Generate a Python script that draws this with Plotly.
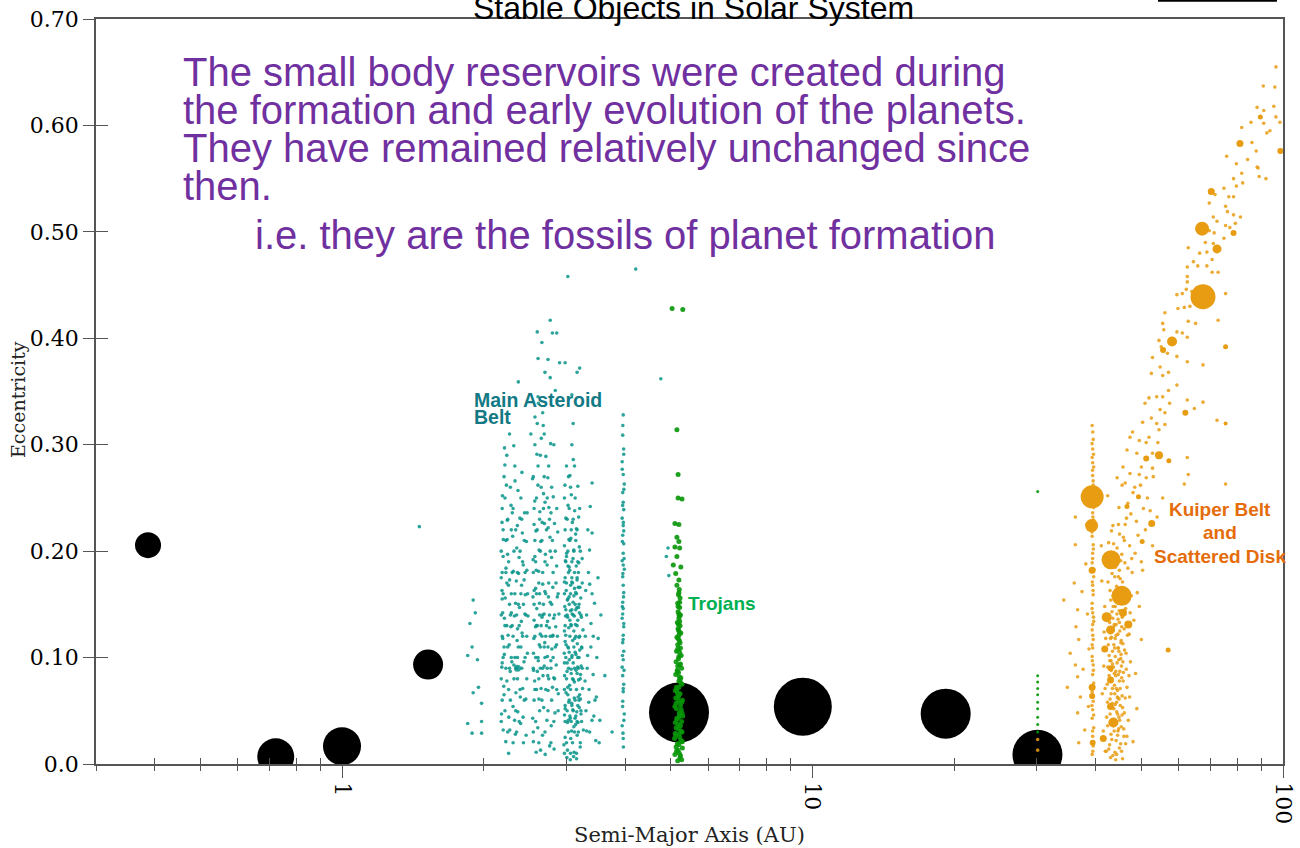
import math
import plotly.graph_objects as go

# ---------------- DATA ----------------
planet_names = ["Mercury", "Venus", "Earth", "Mars", "Jupiter", "Saturn", "Uranus", "Neptune"]
planet_a = [0.387, 0.723, 1.000, 1.524, 5.203, 9.537, 19.19, 30.07]
planet_e = [0.2056, 0.0068, 0.0167, 0.0934, 0.0484, 0.0539, 0.0473, 0.0086]

# main asteroid belt (a [AU], e)
belt_hungaria = [(1.87, 0.132), (1.89, 0.110), (1.92, 0.142), (1.94, 0.098), (1.85, 0.102), (1.90, 0.067),
                 (1.95, 0.072), (1.85, 0.038), (1.98, 0.040), (1.89, 0.029), (1.98, 0.029), (1.98, 0.057),
                 (1.90, 0.154), (1.46, 0.223)]
belt_inner = [(2.18, 0.04), (2.19, 0.06), (2.18, 0.08), (2.20, 0.10), (2.19, 0.12), (2.18, 0.14), (2.20, 0.16),
              (2.19, 0.18), (2.18, 0.20), (2.20, 0.22), (2.19, 0.24), (2.21, 0.27), (2.22, 0.05), (2.23, 0.09),
              (2.22, 0.13), (2.24, 0.17), (2.23, 0.21), (2.22, 0.25), (2.24, 0.29), (2.25, 0.03), (2.26, 0.07),
              (2.25, 0.11), (2.27, 0.15), (2.26, 0.19), (2.25, 0.23), (2.27, 0.31), (2.28, 0.06), (2.29, 0.10),
              (2.28, 0.14), (2.30, 0.18), (2.29, 0.22), (2.28, 0.26), (2.31, 0.02), (2.32, 0.08), (2.31, 0.12),
              (2.33, 0.16), (2.32, 0.20), (2.31, 0.24), (2.33, 0.28), (2.34, 0.05), (2.35, 0.09), (2.36, 0.10),
              (2.36, 0.08), (2.37, 0.11), (2.35, 0.14), (2.36, 0.18), (2.34, 0.22), (2.38, 0.04), (2.39, 0.07),
              (2.38, 0.13), (2.40, 0.16), (2.39, 0.20), (2.40, 0.25), (2.41, 0.09), (2.42, 0.12), (2.43, 0.15),
              (2.42, 0.19), (2.41, 0.23), (2.43, 0.02), (2.44, 0.06), (2.45, 0.10), (2.46, 0.14), (2.45, 0.18),
              (2.44, 0.21), (2.47, 0.12), (2.47, 0.08), (2.48, 0.16), (2.21, 0.11), (2.24, 0.13), (2.27, 0.09),
              (2.30, 0.13), (2.33, 0.10), (2.37, 0.15), (2.40, 0.11), (2.23, 0.18), (2.29, 0.16), (2.35, 0.03),
              (2.26, 0.01), (2.19, 0.155), (2.18, 0.175), (2.20, 0.195), (2.19, 0.095), (2.21, 0.065)]
belt_inner2 = [(2.183, 0.047), (2.207, 0.073), (2.196, 0.118), (2.214, 0.137), (2.188, 0.163), (2.231, 0.184),
               (2.202, 0.211), (2.246, 0.229), (2.193, 0.252), (2.219, 0.281), (2.262, 0.044), (2.278, 0.087),
               (2.254, 0.121), (2.291, 0.142), (2.271, 0.173), (2.249, 0.197), (2.305, 0.214), (2.287, 0.243),
               (2.236, 0.262), (2.318, 0.299), (2.327, 0.041), (2.342, 0.067), (2.319, 0.093), (2.361, 0.127),
               (2.338, 0.151), (2.373, 0.179), (2.352, 0.203), (2.388, 0.231), (2.366, 0.257), (2.412, 0.274),
               (2.397, 0.038), (2.421, 0.071), (2.437, 0.096), (2.405, 0.134), (2.452, 0.159), (2.428, 0.187),
               (2.466, 0.209), (2.443, 0.236), (2.478, 0.104), (2.459, 0.061), (2.186, 0.091), (2.213, 0.103),
               (2.241, 0.078), (2.267, 0.112), (2.296, 0.096), (2.324, 0.139), (2.356, 0.116), (2.383, 0.147),
               (2.414, 0.123), (2.447, 0.141), (2.195, 0.142), (2.223, 0.156), (2.258, 0.168), (2.284, 0.129),
               (2.313, 0.181), (2.347, 0.172), (2.379, 0.194), (2.408, 0.168), (2.438, 0.173), (2.471, 0.182),
               (2.201, 0.032), (2.229, 0.021), (2.273, 0.032), (2.309, 0.054), (2.336, 0.028), (2.364, 0.049),
               (2.393, 0.063), (2.426, 0.044), (2.462, 0.027), (2.485, 0.139), (2.188, 0.227), (2.244, 0.211),
               (2.301, 0.236), (2.359, 0.224), (2.417, 0.217), (2.215, 0.297), (2.332, 0.266), (2.475, 0.236)]
belt_middle = [(2.55, 0.03), (2.56, 0.06), (2.55, 0.09), (2.57, 0.12), (2.56, 0.15), (2.55, 0.18), (2.57, 0.21),
               (2.56, 0.24), (2.55, 0.27), (2.57, 0.30), (2.58, 0.04), (2.59, 0.07), (2.58, 0.10), (2.60, 0.13),
               (2.59, 0.16), (2.58, 0.19), (2.60, 0.22), (2.59, 0.25), (2.61, 0.28), (2.60, 0.32), (2.62, 0.02),
               (2.63, 0.05), (2.62, 0.08), (2.64, 0.11), (2.63, 0.14), (2.62, 0.17), (2.64, 0.20), (2.63, 0.23),
               (2.65, 0.26), (2.64, 0.29), (2.66, 0.06), (2.67, 0.09), (2.66, 0.12), (2.68, 0.15), (2.67, 0.18),
               (2.66, 0.21), (2.68, 0.24), (2.69, 0.27), (2.67, 0.33), (2.70, 0.03), (2.71, 0.07), (2.70, 0.10),
               (2.72, 0.13), (2.71, 0.16), (2.70, 0.19), (2.72, 0.22), (2.73, 0.25), (2.74, 0.05), (2.75, 0.08),
               (2.74, 0.11), (2.76, 0.14), (2.75, 0.17), (2.77, 0.20), (2.76, 0.23), (2.75, 0.28), (2.78, 0.02),
               (2.79, 0.06), (2.78, 0.09), (2.80, 0.12), (2.79, 0.15), (2.81, 0.18), (2.80, 0.21), (2.79, 0.26),
               (2.82, 0.04), (2.83, 0.08), (2.84, 0.11), (2.83, 0.14), (2.85, 0.17), (2.84, 0.20), (2.86, 0.07),
               (2.87, 0.12), (2.86, 0.24), (2.88, 0.05), (2.88, 0.16), (2.57, 0.07), (2.61, 0.10), (2.65, 0.13),
               (2.69, 0.11), (2.73, 0.09), (2.77, 0.12), (2.81, 0.10), (2.59, 0.13), (2.63, 0.16), (2.67, 0.14),
               (2.71, 0.12), (2.64, 0.09), (2.56, 0.135), (2.58, 0.165), (2.57, 0.195), (2.56, 0.225)]
belt_middle2 = [(2.543, 0.043), (2.567, 0.078), (2.552, 0.104), (2.578, 0.129), (2.561, 0.163), (2.548, 0.192),
                (2.583, 0.219), (2.569, 0.247), (2.541, 0.268), (2.596, 0.291), (2.607, 0.034), (2.621, 0.061),
                (2.613, 0.097), (2.638, 0.122), (2.629, 0.151), (2.617, 0.181), (2.645, 0.209), (2.633, 0.237),
                (2.609, 0.262), (2.652, 0.306), (2.668, 0.027), (2.683, 0.053), (2.674, 0.083), (2.697, 0.114),
                (2.689, 0.141), (2.671, 0.169), (2.706, 0.197), (2.693, 0.226), (2.681, 0.254), (2.712, 0.289),
                (2.726, 0.041), (2.741, 0.069), (2.733, 0.101), (2.758, 0.128), (2.746, 0.157), (2.729, 0.187),
                (2.767, 0.213), (2.752, 0.241), (2.738, 0.269), (2.776, 0.301), (2.784, 0.036), (2.801, 0.072),
                (2.793, 0.108), (2.817, 0.137), (2.806, 0.166), (2.789, 0.194), (2.829, 0.226), (2.812, 0.251),
                (2.836, 0.048), (2.853, 0.093), (2.846, 0.129), (2.868, 0.157), (2.859, 0.186), (2.874, 0.218),
                (2.882, 0.066), (2.891, 0.141), (2.551, 0.021), (2.586, 0.011), (2.642, 0.013), (2.703, 0.009),
                (2.762, 0.017), (2.823, 0.014), (2.557, 0.118), (2.594, 0.146), (2.626, 0.112), (2.661, 0.138),
                (2.699, 0.162), (2.734, 0.134), (2.771, 0.152), (2.808, 0.121), (2.546, 0.157), (2.587, 0.182),
                (2.623, 0.201), (2.663, 0.227), (2.701, 0.246), (2.743, 0.222), (2.781, 0.236), (2.571, 0.326),
                (2.615, 0.339), (2.677, 0.318), (2.553, 0.088), (2.601, 0.087), (2.649, 0.071), (2.691, 0.092),
                (2.737, 0.083), (2.779, 0.097), (2.819, 0.081), (2.858, 0.112)]
belt_outer = [(2.97, 0.01), (2.98, 0.04), (2.97, 0.07), (2.99, 0.10), (2.98, 0.13), (2.97, 0.16), (2.99, 0.19),
              (2.98, 0.22), (2.97, 0.25), (3.00, 0.02), (3.01, 0.05), (3.00, 0.08), (3.02, 0.11), (3.01, 0.14),
              (3.00, 0.17), (3.02, 0.20), (3.01, 0.23), (3.00, 0.28), (3.03, 0.03), (3.04, 0.06), (3.03, 0.09),
              (3.05, 0.12), (3.04, 0.15), (3.03, 0.18), (3.05, 0.21), (3.04, 0.24), (3.03, 0.27), (3.06, 0.01),
              (3.07, 0.04), (3.06, 0.07), (3.08, 0.10), (3.07, 0.13), (3.06, 0.16), (3.08, 0.19), (3.07, 0.22),
              (3.06, 0.26), (3.08, 0.30), (3.09, 0.02), (3.10, 0.05), (3.09, 0.08), (3.11, 0.11), (3.10, 0.14),
              (3.09, 0.17), (3.11, 0.20), (3.10, 0.23), (3.12, 0.03), (3.13, 0.06), (3.12, 0.09), (3.14, 0.12),
              (3.13, 0.15), (3.12, 0.18), (3.14, 0.21), (3.13, 0.25), (3.12, 0.28), (3.15, 0.01), (3.16, 0.04),
              (3.15, 0.07), (3.17, 0.10), (3.16, 0.13), (3.15, 0.16), (3.17, 0.19), (3.16, 0.22), (3.18, 0.03),
              (3.19, 0.06), (3.18, 0.09), (3.20, 0.12), (3.19, 0.15), (3.18, 0.18), (3.20, 0.24), (3.21, 0.02),
              (3.22, 0.05), (3.21, 0.08), (3.23, 0.11), (3.22, 0.14), (3.21, 0.20), (3.24, 0.09), (3.24, 0.17),
              (3.23, 0.04), (2.98, 0.115), (3.01, 0.095), (3.04, 0.105), (3.07, 0.085), (3.10, 0.095),
              (3.13, 0.105), (3.16, 0.085), (3.19, 0.100), (2.99, 0.145), (3.02, 0.155), (3.05, 0.135),
              (3.08, 0.145), (3.11, 0.125), (3.14, 0.145), (3.17, 0.135), (2.98, 0.055), (3.02, 0.065),
              (3.05, 0.045), (3.08, 0.055), (3.11, 0.035), (3.14, 0.045), (3.17, 0.055), (3.20, 0.065),
              (3.00, 0.195), (3.04, 0.185), (3.08, 0.175), (3.12, 0.165), (3.16, 0.175), (2.97, 0.095),
              (2.98, 0.175), (2.97, 0.125), (2.98, 0.025), (2.97, 0.205)]
belt_outer2 = [(2.963, 0.018), (2.981, 0.052), (2.972, 0.083), (2.994, 0.112), (2.986, 0.139), (2.969, 0.171),
               (3.002, 0.198), (2.991, 0.231), (2.977, 0.262), (3.014, 0.013), (3.027, 0.041), (3.019, 0.072),
               (3.041, 0.098), (3.033, 0.128), (3.012, 0.154), (3.048, 0.182), (3.036, 0.211), (3.023, 0.243),
               (3.051, 0.271), (3.063, 0.024), (3.078, 0.057), (3.069, 0.089), (3.092, 0.116), (3.084, 0.141),
               (3.061, 0.168), (3.097, 0.193), (3.087, 0.227), (3.072, 0.253), (3.101, 0.286), (3.113, 0.011),
               (3.128, 0.043), (3.119, 0.077), (3.142, 0.103), (3.134, 0.131), (3.111, 0.158), (3.147, 0.186),
               (3.137, 0.216), (3.122, 0.238), (3.161, 0.027), (3.176, 0.063), (3.168, 0.091), (3.189, 0.119),
               (3.181, 0.147), (3.159, 0.173), (3.194, 0.204), (3.184, 0.232), (3.171, 0.261), (3.208, 0.016),
               (3.221, 0.047), (3.213, 0.084), (3.234, 0.109), (3.227, 0.138), (3.204, 0.166), (3.239, 0.193),
               (3.246, 0.071), (3.252, 0.126), (3.258, 0.032), (2.968, 0.104), (2.989, 0.121), (3.008, 0.087),
               (3.029, 0.109), (3.047, 0.074), (3.066, 0.131), (3.083, 0.102), (3.104, 0.079), (3.124, 0.118),
               (3.143, 0.088), (3.163, 0.113), (3.182, 0.079), (3.201, 0.107), (3.223, 0.092), (2.975, 0.148),
               (2.996, 0.163), (3.017, 0.138), (3.038, 0.157), (3.058, 0.144), (3.079, 0.171), (3.098, 0.152),
               (3.117, 0.139), (3.138, 0.161), (3.157, 0.147), (3.178, 0.166), (3.196, 0.142), (3.217, 0.156),
               (2.971, 0.046), (2.993, 0.067), (3.015, 0.039), (3.034, 0.058), (3.057, 0.043), (3.076, 0.031),
               (3.095, 0.051), (3.116, 0.062), (3.137, 0.037), (3.155, 0.049), (3.173, 0.039), (3.193, 0.053),
               (3.212, 0.061), (3.006, 0.006), (3.056, 0.004), (3.106, 0.007), (3.151, 0.005), (2.984, 0.191),
               (3.022, 0.186), (3.064, 0.212), (3.109, 0.201), (3.149, 0.221), (3.186, 0.189)]
belt_cybele = [(3.30, 0.05), (3.32, 0.09), (3.31, 0.14), (3.34, 0.18), (3.36, 0.03), (3.38, 0.11), (3.35, 0.07),
               (3.40, 0.16), (3.42, 0.12), (3.45, 0.06), (3.33, 0.22), (3.48, 0.10), (3.52, 0.02), (3.55, 0.14),
               (3.40, 0.264), (3.37, 0.242), (3.40, 0.217), (3.29, 0.12), (3.43, 0.045), (3.50, 0.175),
               (3.311, 0.031), (3.346, 0.058), (3.327, 0.102), (3.382, 0.132), (3.361, 0.169), (3.418, 0.084),
               (3.398, 0.041), (3.441, 0.151), (3.472, 0.063), (3.503, 0.118), (3.285, 0.078), (3.296, 0.163),
               (3.358, 0.201), (3.532, 0.041), (3.462, 0.022)]
belt_hilda = [(3.96, 0.328), (3.95, 0.309), (3.97, 0.291), (3.94, 0.284), (3.96, 0.272), (3.98, 0.263),
              (3.95, 0.255), (3.96, 0.246), (3.97, 0.239), (3.94, 0.231), (3.96, 0.224), (3.95, 0.215),
              (3.97, 0.207), (3.96, 0.198), (3.94, 0.191), (3.98, 0.183), (3.95, 0.176), (3.96, 0.168),
              (3.97, 0.161), (3.95, 0.152), (3.96, 0.146), (3.94, 0.137), (3.97, 0.129), (3.96, 0.121),
              (3.95, 0.114), (3.97, 0.106), (3.96, 0.098), (3.94, 0.091), (3.95, 0.083), (3.97, 0.075),
              (3.96, 0.068), (3.95, 0.059), (3.98, 0.047), (3.94, 0.036), (3.96, 0.024), (3.95, 0.141),
              (3.96, 0.187), (3.97, 0.219), (3.952, 0.318), (3.968, 0.296), (3.941, 0.277), (3.973, 0.258),
              (3.949, 0.243), (3.962, 0.227), (3.944, 0.209), (3.977, 0.193), (3.953, 0.179), (3.966, 0.157),
              (3.942, 0.148), (3.971, 0.132), (3.958, 0.117), (3.946, 0.102), (3.975, 0.088), (3.961, 0.071),
              (3.948, 0.054), (3.972, 0.041), (3.955, 0.029), (3.963, 0.016)]
belt_high = [(3.02, 0.458), (4.21, 0.465), (4.76, 0.362), (4.93, 0.203), (4.89, 0.195), (4.95, 0.177),
             (2.77, 0.417), (2.60, 0.406), (2.80, 0.405), (2.86, 0.405), (2.66, 0.396), (2.61, 0.381),
             (2.74, 0.380), (2.90, 0.377), (2.98, 0.377), (2.70, 0.368), (2.77, 0.363), (2.37, 0.359),
             (3.16, 0.368), (3.20, 0.372), (2.84, 0.351), (2.61, 0.345), (3.08, 0.347), (3.62, 0.083),
             (3.75, 0.030), (2.52, 0.31), (2.69, 0.31), (2.82, 0.30), (3.10, 0.32)]
vesta_a, vesta_e = [2.36], [0.090]

# Jupiter trojans
trojans = [(5.21, 0.164), (5.19, 0.159), (5.23, 0.156), (5.17, 0.151), (5.22, 0.147), (5.18, 0.143),
           (5.24, 0.140), (5.20, 0.137), (5.16, 0.133), (5.23, 0.130), (5.19, 0.126), (5.25, 0.123),
           (5.15, 0.119), (5.21, 0.116), (5.17, 0.112), (5.24, 0.109), (5.14, 0.106), (5.26, 0.102),
           (5.19, 0.099), (5.13, 0.096), (5.22, 0.093), (5.27, 0.090), (5.16, 0.087), (5.12, 0.084),
           (5.25, 0.081), (5.20, 0.078), (5.28, 0.075), (5.14, 0.072), (5.11, 0.069), (5.23, 0.066),
           (5.18, 0.063), (5.29, 0.060), (5.13, 0.057), (5.10, 0.054), (5.26, 0.051), (5.21, 0.048),
           (5.30, 0.045), (5.15, 0.042), (5.11, 0.039), (5.24, 0.036), (5.19, 0.033), (5.28, 0.030),
           (5.12, 0.027), (5.09, 0.024), (5.25, 0.021), (5.20, 0.018), (5.29, 0.015), (5.14, 0.012),
           (5.10, 0.009), (5.23, 0.006), (5.17, 0.003), (5.20, 0.161), (5.22, 0.152), (5.18, 0.148),
           (5.20, 0.141), (5.22, 0.134), (5.18, 0.127), (5.20, 0.121), (5.23, 0.114), (5.17, 0.108),
           (5.20, 0.101), (5.24, 0.094), (5.16, 0.088), (5.21, 0.082), (5.25, 0.076), (5.15, 0.070),
           (5.19, 0.064), (5.27, 0.058), (5.14, 0.052), (5.22, 0.046), (5.27, 0.040), (5.13, 0.034),
           (5.21, 0.028), (5.26, 0.022), (5.13, 0.016), (5.21, 0.010), (5.27, 0.004), (5.18, 0.118),
           (5.22, 0.105), (5.17, 0.092), (5.23, 0.079), (5.16, 0.067), (5.24, 0.055), (5.15, 0.043),
           (5.25, 0.031), (5.16, 0.019), (5.24, 0.008), (5.19, 0.086), (5.20, 0.072), (5.19, 0.059),
           (5.20, 0.044), (5.18, 0.037), (5.22, 0.025), (5.18, 0.013), (5.12, 0.062), (5.28, 0.048),
           (5.11, 0.029), (5.29, 0.021), (5.21, 0.139), (5.19, 0.131), (5.21, 0.124),
           (5.10, 0.226), (5.20, 0.225), (5.15, 0.213), (5.20, 0.209), (5.10, 0.204), (5.22, 0.203),
           (5.15, 0.195), (5.06, 0.187), (5.25, 0.185), (5.12, 0.179), (5.20, 0.173), (5.15, 0.168),
           (5.03, 0.428), (5.30, 0.427), (5.15, 0.314), (5.18, 0.272), (5.18, 0.250), (5.28, 0.249)]

# Neptune trojans
nep_trojans = [(30.1, 0.256), (30.1, 0.083), (30.1, 0.077), (30.1, 0.071), (30.1, 0.065), (30.1, 0.058),
               (30.1, 0.052), (30.1, 0.044), (30.1, 0.037), (30.1, 0.030)]

# Kuiper belt & scattered disk (small bodies)
kbo_plutino = [(39.3, 0.318), (39.5, 0.305), (39.4, 0.296), (39.3, 0.288), (39.6, 0.279), (39.4, 0.271),
               (39.5, 0.262), (39.3, 0.244), (39.4, 0.236), (39.6, 0.229), (39.3, 0.214), (39.5, 0.206),
               (39.4, 0.198), (39.3, 0.189), (39.6, 0.176), (39.4, 0.168), (39.5, 0.159), (39.3, 0.151),
               (39.4, 0.142), (39.6, 0.134), (39.3, 0.126), (39.5, 0.117), (39.4, 0.109), (39.3, 0.101),
               (39.5, 0.093), (39.4, 0.084), (39.6, 0.076), (39.3, 0.068), (39.5, 0.059), (39.4, 0.051),
               (39.3, 0.043), (39.6, 0.034), (39.4, 0.026), (39.5, 0.017), (39.3, 0.009), (39.4, 0.283),
               (39.5, 0.221), (39.4, 0.131), (39.5, 0.071), (39.3, 0.112), (39.42, 0.312), (39.28, 0.301),
               (39.55, 0.291), (39.37, 0.276), (39.49, 0.266), (39.31, 0.254), (39.58, 0.241), (39.44, 0.232),
               (39.27, 0.218), (39.52, 0.202), (39.39, 0.193), (39.61, 0.183), (39.33, 0.171), (39.47, 0.163),
               (39.29, 0.146), (39.56, 0.138), (39.41, 0.121), (39.34, 0.097), (39.53, 0.088), (39.46, 0.063),
               (39.26, 0.055), (39.59, 0.046), (39.38, 0.031), (39.43, 0.012)]
kbo_inner = [(36.2, 0.232), (36.2, 0.206), (36.0, 0.170), (34.2, 0.154), (36.6, 0.145), (36.3, 0.129),
             (36.8, 0.117), (36.2, 0.093), (36.6, 0.082), (34.8, 0.072), (37.1, 0.063), (36.6, 0.048),
             (37.9, 0.032), (36.8, 0.020), (35.3, 0.104), (38.4, 0.141), (38.1, 0.188), (37.6, 0.089),
             (38.6, 0.054), (37.4, 0.162), (38.3, 0.225), (38.7, 0.108), (30.1, 0.023), (30.1, 0.013)]
kbo_classical = [(42.1, 0.012), (42.8, 0.018), (43.5, 0.008), (44.2, 0.022), (44.9, 0.015), (45.6, 0.005),
                 (46.3, 0.019), (43.1, 0.028), (44.6, 0.031), (45.9, 0.026), (42.4, 0.036), (43.3, 0.041),
                 (44.0, 0.038), (44.8, 0.044), (45.3, 0.035), (46.0, 0.048), (43.7, 0.052), (44.3, 0.058),
                 (45.1, 0.055), (42.9, 0.061), (43.9, 0.066), (44.5, 0.069), (45.5, 0.064), (46.6, 0.072),
                 (42.3, 0.075), (43.2, 0.079), (44.1, 0.083), (44.9, 0.078), (45.8, 0.086), (43.6, 0.091),
                 (44.4, 0.095), (45.2, 0.099), (42.7, 0.102), (43.4, 0.106), (44.7, 0.109), (45.7, 0.113),
                 (46.4, 0.104), (43.0, 0.118), (44.2, 0.121), (45.0, 0.125), (43.8, 0.131), (44.6, 0.136),
                 (45.4, 0.129), (42.5, 0.139), (43.3, 0.143), (44.0, 0.148), (45.9, 0.141), (44.8, 0.153),
                 (43.5, 0.158), (46.2, 0.151), (42.9, 0.163), (44.3, 0.167), (45.6, 0.171), (43.9, 0.176),
                 (44.9, 0.182), (42.2, 0.186), (45.2, 0.191), (43.6, 0.196), (46.8, 0.184), (44.4, 0.203),
                 (42.6, 0.208), (45.8, 0.213), (43.2, 0.219), (44.7, 0.225), (46.5, 0.231), (42.0, 0.118),
                 (41.6, 0.092), (41.3, 0.066), (41.8, 0.148), (41.2, 0.172), (47.1, 0.122), (47.4, 0.096),
                 (47.6, 0.158), (47.2, 0.063), (46.9, 0.041), (41.5, 0.031), (41.1, 0.205), (47.7, 0.193),
                 (44.1, 0.004), (45.0, 0.087), (43.4, 0.071), (44.8, 0.106), (45.3, 0.116), (44.5, 0.047),
                 (43.1, 0.097), (45.6, 0.139), (44.2, 0.159), (43.7, 0.112), (44.9, 0.133), (44.0, 0.101),
                 (43.3, 0.127), (45.4, 0.081), (44.6, 0.062), (43.8, 0.085), (45.1, 0.174), (44.3, 0.188),
                 (43.5, 0.224), (44.8, 0.241), (42.4, 0.252), (45.5, 0.262), (49.5, 0.148), (49.0, 0.161),
                 (50.3, 0.182), (50.0, 0.117), (48.6, 0.085), (48.2, 0.135), (48.9, 0.052), (48.0, 0.021),
                 (42.63, 0.014), (43.27, 0.023), (43.94, 0.011), (44.52, 0.027), (45.18, 0.019), (45.87, 0.033),
                 (42.91, 0.047), (43.58, 0.036), (44.31, 0.049), (44.97, 0.041), (45.62, 0.053), (46.21, 0.062),
                 (42.38, 0.058), (43.11, 0.066), (43.82, 0.074), (44.46, 0.063), (45.08, 0.071), (45.73, 0.078),
                 (46.44, 0.089), (42.71, 0.083), (43.41, 0.094), (44.12, 0.087), (44.77, 0.098), (45.36, 0.092),
                 (46.05, 0.107), (42.52, 0.112), (43.19, 0.119), (43.87, 0.109), (44.58, 0.122), (45.24, 0.114),
                 (45.96, 0.127), (42.81, 0.133), (43.49, 0.137), (44.19, 0.131), (44.86, 0.144), (45.51, 0.138),
                 (46.31, 0.146), (43.04, 0.154), (43.72, 0.161), (44.41, 0.156), (45.11, 0.164), (45.79, 0.158),
                 (42.47, 0.171), (43.31, 0.179), (44.05, 0.185), (44.68, 0.176), (45.43, 0.197), (46.12, 0.189),
                 (43.64, 0.207), (44.93, 0.216), (42.19, 0.044), (41.87, 0.071), (41.66, 0.124), (47.06, 0.083),
                 (47.33, 0.142), (46.73, 0.121), (46.58, 0.026), (41.92, 0.012), (43.77, 0.031), (44.23, 0.071),
                 (44.69, 0.084), (43.36, 0.057), (44.84, 0.061), (43.97, 0.118), (45.27, 0.103), (44.36, 0.141),
                 (43.56, 0.148), (45.67, 0.096), (44.01, 0.056), (43.14, 0.088), (44.73, 0.033), (45.49, 0.046),
                 (43.68, 0.129), (44.54, 0.109), (42.86, 0.097), (45.02, 0.151), (44.28, 0.009), (43.01, 0.006),
                 (45.39, 0.012), (42.44, 0.091)]
kbo_scattered = [(96.6, 0.655), (90.8, 0.637), (96.1, 0.636), (88.1, 0.617), (91.0, 0.614), (95.6, 0.618),
                 (96.6, 0.608), (98.5, 0.603), (85.5, 0.603), (91.0, 0.602), (81.7, 0.598), (92.4, 0.593),
                 (93.8, 0.595), (85.9, 0.584), (87.7, 0.576), (75.9, 0.571), (84.1, 0.568), (79.6, 0.564),
                 (88.1, 0.561), (88.5, 0.560), (81.7, 0.555), (89.0, 0.552), (92.0, 0.550), (78.5, 0.550),
                 (79.6, 0.543), (82.1, 0.546), (74.9, 0.541), (71.7, 0.535), (76.7, 0.533), (78.5, 0.533),
                 (69.7, 0.527), (75.5, 0.524), (76.2, 0.519), (78.5, 0.516), (81.2, 0.514), (71.1, 0.514),
                 (72.4, 0.510), (79.2, 0.508), (75.5, 0.506), (69.7, 0.501), (71.4, 0.499), (77.1, 0.504),
                 (74.9, 0.494), (68.4, 0.490), (71.1, 0.489), (62.9, 0.485), (66.5, 0.480), (68.9, 0.481),
                 (70.7, 0.474), (64.5, 0.472), (62.6, 0.467), (65.9, 0.468), (68.9, 0.468), (72.8, 0.462),
                 (70.7, 0.462), (62.6, 0.458), (62.6, 0.453), (61.1, 0.442), (59.5, 0.441), (64.0, 0.444),
                 (62.3, 0.446), (75.5, 0.442), (61.7, 0.429), (63.4, 0.430), (62.9, 0.416), (65.2, 0.414),
                 (59.8, 0.428), (72.8, 0.417), (56.1, 0.424), (55.5, 0.414), (55.8, 0.408), (59.5, 0.406),
                 (61.1, 0.405), (62.6, 0.401), (54.5, 0.398), (55.1, 0.392), (56.8, 0.386), (52.8, 0.382),
                 (59.5, 0.383), (62.6, 0.378), (54.8, 0.373), (57.1, 0.368), (52.5, 0.367), (55.5, 0.365),
                 (67.6, 0.375), (59.5, 0.356), (57.1, 0.351), (62.6, 0.342), (51.9, 0.344), (53.9, 0.345),
                 (55.5, 0.345), (57.4, 0.339), (50.9, 0.339), (54.8, 0.333), (64.8, 0.334), (56.1, 0.330),
                 (52.5, 0.325), (50.3, 0.321), (53.9, 0.320), (72.4, 0.323), (56.1, 0.319), (54.5, 0.314),
                 (47.9, 0.312), (47.3, 0.307), (51.9, 0.307), (49.5, 0.304), (51.2, 0.302), (54.2, 0.302),
                 (46.6, 0.295), (48.9, 0.292), (52.8, 0.292), (45.7, 0.279), (50.0, 0.279), (52.8, 0.278),
                 (47.3, 0.273), (49.5, 0.272), (44.4, 0.269), (51.2, 0.269), (46.2, 0.264), (48.4, 0.260),
                 (62.6, 0.288), (62.9, 0.272), (61.7, 0.263), (75.5, 0.263), (67.6, 0.340),
                 (46.8, 0.245), (48.0, 0.255), (49.8, 0.262), (51.5, 0.250), (53.0, 0.270), (47.5, 0.235),
                 (50.5, 0.240), (52.2, 0.238), (48.8, 0.228), (46.2, 0.225), (49.2, 0.215), (51.0, 0.220),
                 (47.2, 0.205), (48.5, 0.198), (50.0, 0.190), (46.0, 0.210), (52.8, 0.205), (54.0, 0.232),
                 (55.5, 0.250), (47.8, 0.180)]

# larger trans-Neptunian objects
kbo_big_a = [39.3, 39.2, 43.1, 45.4, 67.6, 67.3, 43.6, 39.3, 42.2, 43.0, 45.7, 46.9, 41.8, 39.3, 39.3,
             43.0, 41.5, 39.4, 43.0, 43.0, 54.5, 51.2, 49.3, 52.6, 50.2, 46.6, 57.0, 72.4, 78.5, 70.4,
             81.0, 89.5, 98.7, 58.1, 55.6, 75.5, 62.0, 75.5, 57.2]
kbo_big_e = [0.251, 0.224, 0.192, 0.158, 0.439, 0.503, 0.039, 0.182, 0.138, 0.126, 0.142, 0.131, 0.108,
             0.072, 0.064, 0.054, 0.024, 0.020, 0.079, 0.090, 0.290, 0.287, 0.251, 0.226, 0.209, 0.242,
             0.107, 0.484, 0.499, 0.538, 0.583, 0.608, 0.576, 0.397, 0.389, 0.392, 0.330, 0.320, 0.285]

x_major_ticks = [1, 10, 100]
x_minor_ticks = [0.3, 0.4, 0.5, 0.6, 0.7, 0.8, 0.9, 2, 3, 4, 5, 6, 7, 8, 9, 20, 30, 40, 50, 60, 70, 80, 90]
y_ticks = [0.0, 0.1, 0.2, 0.3, 0.4, 0.5, 0.6, 0.7]
y_ticktext = ["0.0", "0.10", "0.20", "0.30", "0.40", "0.50", "0.60", "0.70"]

# ---------------- STYLE ----------------
planet_marker_px = [26, 37, 38, 30, 60, 58, 50, 50]
kbo_big_marker_px = [23, 13, 19, 20, 25, 14, 10, 7, 10, 9, 8, 8, 7, 7, 6, 7, 7, 6, 7, 6, 8, 6, 5, 7, 5, 5,
                     5, 9, 6, 7, 7, 5, 6, 10, 6, 5, 6, 4, 5]
TEAL = "rgba(8,148,138,0.85)"
GREEN = "rgba(8,150,8,0.9)"
ORANGE = "rgba(232,156,18,0.85)"
AXC = "#555555"
SERIF = "DejaVu Serif"
SANS = "Liberation Sans, Arial, sans-serif"


def unzip(pairs):
    return [p[0] for p in pairs], [p[1] for p in pairs]


fig = go.Figure()

fig.add_trace(go.Scatter(x=planet_a, y=planet_e, mode="markers", text=planet_names,
                         marker=dict(size=planet_marker_px, color="black", opacity=1, line=dict(width=0)),
                         hoverinfo="text+x+y"))

belt_all = (belt_hungaria + belt_inner + belt_inner2 + belt_middle + belt_middle2 + belt_outer + belt_outer2
            + belt_cybele + belt_hilda + belt_high)
ba, be = unzip(belt_all)
fig.add_trace(go.Scatter(x=ba, y=be, mode="markers", marker=dict(size=3.6, color=TEAL, line=dict(width=0))))
fig.add_trace(go.Scatter(x=vesta_a, y=vesta_e, mode="markers",
                         marker=dict(size=7, color=TEAL, opacity=1, line=dict(width=0))))

ta, te = unzip(trojans)
fig.add_trace(go.Scatter(x=ta, y=te, mode="markers", marker=dict(size=5, color=GREEN, line=dict(width=0))))

ka, ke = unzip(kbo_plutino + kbo_inner + kbo_classical + kbo_scattered)
fig.add_trace(go.Scatter(x=ka, y=ke, mode="markers", marker=dict(size=3.6, color=ORANGE, line=dict(width=0))))
fig.add_trace(go.Scatter(x=kbo_big_a, y=kbo_big_e, mode="markers",
                         marker=dict(size=kbo_big_marker_px, color="rgb(232,156,18)", opacity=1,
                                     line=dict(width=0))))

na, ne = unzip(nep_trojans)
fig.add_trace(go.Scatter(x=na, y=ne, mode="markers", marker=dict(size=3, color=GREEN, line=dict(width=0))))

# empty traces to activate the tick-only overlay axes
fig.add_trace(go.Scatter(x=[], y=[], xaxis="x2", yaxis="y", hoverinfo="skip"))
fig.add_trace(go.Scatter(x=[], y=[], xaxis="x3", yaxis="y", hoverinfo="skip"))
fig.add_trace(go.Scatter(x=[], y=[], xaxis="x", yaxis="y2", hoverinfo="skip"))

XR = [math.log10(0.3), 2]
YR = [0, 0.7]
common_x = dict(type="log", range=XR, showgrid=False, zeroline=False, tickcolor=AXC, tickwidth=1.3,
                automargin=False)

fig.update_layout(
    width=1300, height=848,
    margin=dict(l=96, r=17, t=19, b=84),
    plot_bgcolor="white", paper_bgcolor="white",
    showlegend=False,
    xaxis=dict(**common_x, tickvals=x_major_ticks, ticktext=["1", "10", "100"], ticks="outside",
               ticklen=12, tickangle=90, showline=True, linecolor=AXC, linewidth=1.5, mirror=True,
               tickfont=dict(family=SERIF, size=22, color="black")),
    xaxis2=dict(**common_x, overlaying="x", tickvals=x_minor_ticks, ticks="outside", ticklen=6,
                showticklabels=False, showline=False),
    xaxis3=dict(**common_x, overlaying="x", tickvals=x_minor_ticks, ticks="inside", ticklen=6,
                showticklabels=False, showline=False),
    yaxis=dict(range=YR, tickvals=y_ticks, ticktext=y_ticktext, ticks="outside", ticklen=11, automargin=False,
               tickcolor=AXC, tickwidth=1.3, showline=True, linecolor=AXC, linewidth=1.5, mirror=True,
               showgrid=False, zeroline=False, tickfont=dict(family=SERIF, size=22, color="black")),
    yaxis2=dict(range=YR, overlaying="y", tickvals=y_ticks, ticks="inside", ticklen=12, tickcolor=AXC,
                automargin=False, tickwidth=1.3, showticklabels=False, showline=False, showgrid=False,
                zeroline=False),
)

PURPLE = "#7030A0"
ann = []
ann.append(dict(text="Stable Objects in Solar System", x=0.503, y=1.0141, xref="paper", yref="paper",
                xanchor="center", yanchor="middle", showarrow=False,
                font=dict(family=SANS, size=32, color="black")))
for txt, yy in [("The small body reservoirs were created during", 0.9282),
                ("the formation and early evolution of the planets.", 0.8774),
                ("They have remained relatively unchanged since", 0.8268),
                ("then.", 0.7758)]:
    ann.append(dict(text=txt, x=0.0716, y=yy, xref="paper", yref="paper", xanchor="left",
                    yanchor="middle", showarrow=False, font=dict(family=SANS, size=40, color=PURPLE)))
ann.append(dict(text="i.e. they are the fossils of planet formation", x=0.1323, y=0.7094, xref="paper",
                yref="paper", xanchor="left", yanchor="middle", showarrow=False,
                font=dict(family=SANS, size=40, color=PURPLE)))
for txt, yy in [("<b>Main Asteroid</b>", 0.489), ("<b>Belt</b>", 0.4658)]:
    ann.append(dict(text=txt, x=0.3168, y=yy, xref="paper", yref="paper", xanchor="left", yanchor="middle",
                    showarrow=False, font=dict(family=SANS, size=19.5, color="#127985")))
ann.append(dict(text="<b>Trojans</b>", x=0.497, y=0.2152, xref="paper", yref="paper", xanchor="left",
                yanchor="middle", showarrow=False, font=dict(family=SANS, size=19, color="#00B050")))
for txt, yy in [("<b>Kuiper Belt</b>", 0.3413), ("<b>and</b>", 0.3101), ("<b>Scattered Disk</b>", 0.2787)]:
    ann.append(dict(text=txt, x=0.947, y=yy, xref="paper", yref="paper", xanchor="center", yanchor="middle",
                    showarrow=False, font=dict(family=SANS, size=19, color="#E46C0A")))
ann.append(dict(text="Semi-Major Axis (AU)", x=0.5, y=-0.0953, xref="paper", yref="paper", xanchor="center",
                yanchor="middle", showarrow=False, font=dict(family=SERIF, size=21, color="#222")))
ann.append(dict(text="Eccentricity", x=-0.0657, y=0.4886, xref="paper", yref="paper", xanchor="center",
                yanchor="middle", textangle=-90, showarrow=False,
                font=dict(family=SERIF, size=19, color="#222")))
fig.update_layout(annotations=ann)

# cut-off box edge at top right
fig.add_shape(type="line", xref="paper", yref="paper", x0=0.8947, x1=0.9949, y0=1.0245, y1=1.0245,
              line=dict(color="black", width=2))

fig.write_html("out.html")
